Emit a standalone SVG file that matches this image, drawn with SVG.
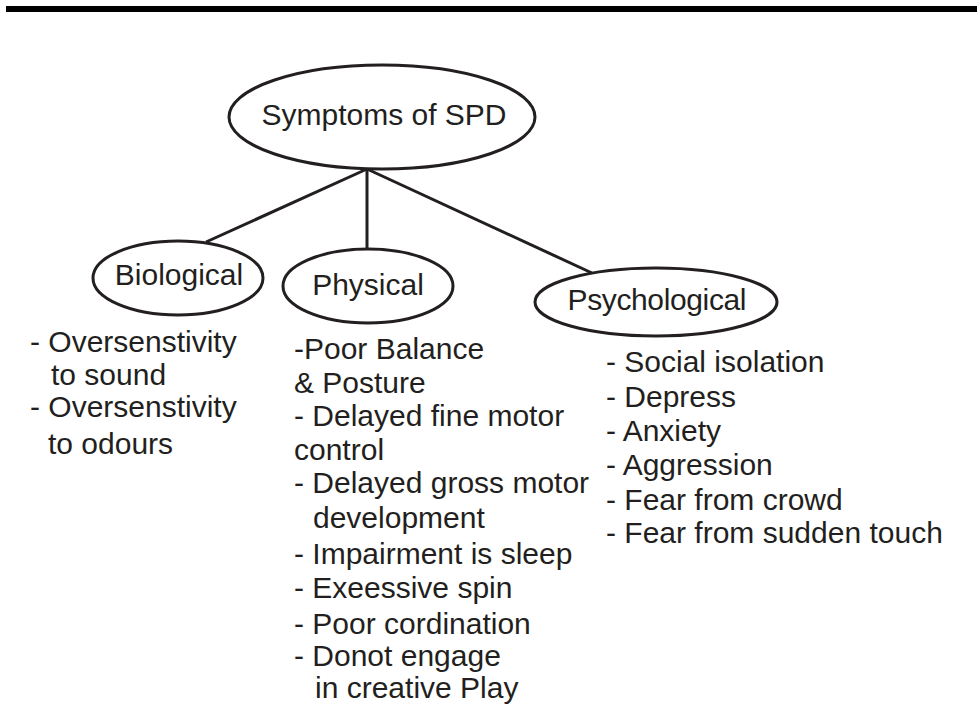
<svg xmlns="http://www.w3.org/2000/svg" width="977" height="706" viewBox="0 0 977 706">
  <style>
    .shape { fill: none; stroke: #231f20; stroke-width: 3; }
    .label { font-family: "Liberation Sans", Arial, sans-serif; font-size: 30px; fill: #231f20; }
    .mid { text-anchor: middle; }
  </style>
  <rect x="0" y="0" width="977" height="706" fill="#ffffff"/>
  <!-- header rule -->
  <rect x="6" y="6" width="971" height="6" fill="#000000"/>

  <g id="connectors">
    <line class="shape" x1="367" y1="169" x2="206" y2="242"/>
    <line class="shape" x1="367" y1="169" x2="367" y2="249"/>
    <line class="shape" x1="367" y1="169" x2="592" y2="273"/>
  </g>

  <g id="root">
    <ellipse class="shape" cx="382" cy="117" rx="153" ry="52"/>
    <text class="label mid" x="384" y="125">Symptoms of SPD</text>
  </g>

  <g id="biological">
    <ellipse class="shape" cx="178" cy="278" rx="85" ry="37"/>
    <text class="label mid" x="179" y="285">Biological</text>
    <text class="label" x="30" y="352">- Oversenstivity</text>
    <text class="label" x="51" y="385">to sound</text>
    <text class="label" x="30" y="417">- Oversenstivity</text>
    <text class="label" x="48" y="454">to odours</text>
  </g>

  <g id="physical">
    <ellipse class="shape" cx="368" cy="286" rx="85" ry="37"/>
    <text class="label mid" x="368" y="295">Physical</text>
    <text class="label" x="294" y="359">-Poor Balance</text>
    <text class="label" x="294" y="393">&amp; Posture</text>
    <text class="label" x="294" y="426">- Delayed fine motor</text>
    <text class="label" x="294" y="460">control</text>
    <text class="label" x="294" y="493">- Delayed gross motor</text>
    <text class="label" x="313" y="528">development</text>
    <text class="label" x="294" y="564">- Impairment is sleep</text>
    <text class="label" x="294" y="598">- Exeessive spin</text>
    <text class="label" x="294" y="634">- Poor cordination</text>
    <text class="label" x="294" y="666">- Donot engage</text>
    <text class="label" x="315" y="698">in creative Play</text>
  </g>

  <g id="psychological">
    <ellipse class="shape" cx="656" cy="302" rx="121" ry="34"/>
    <text class="label mid" x="657" y="310" textLength="179">Psychological</text>
    <text class="label" x="606" y="372">- Social isolation</text>
    <text class="label" x="606" y="407">- Depress</text>
    <text class="label" x="606" y="441">- Anxiety</text>
    <text class="label" x="606" y="475">- Aggression</text>
    <text class="label" x="606" y="510">- Fear from crowd</text>
    <text class="label" x="606" y="543">- Fear from sudden touch</text>
  </g>
</svg>
